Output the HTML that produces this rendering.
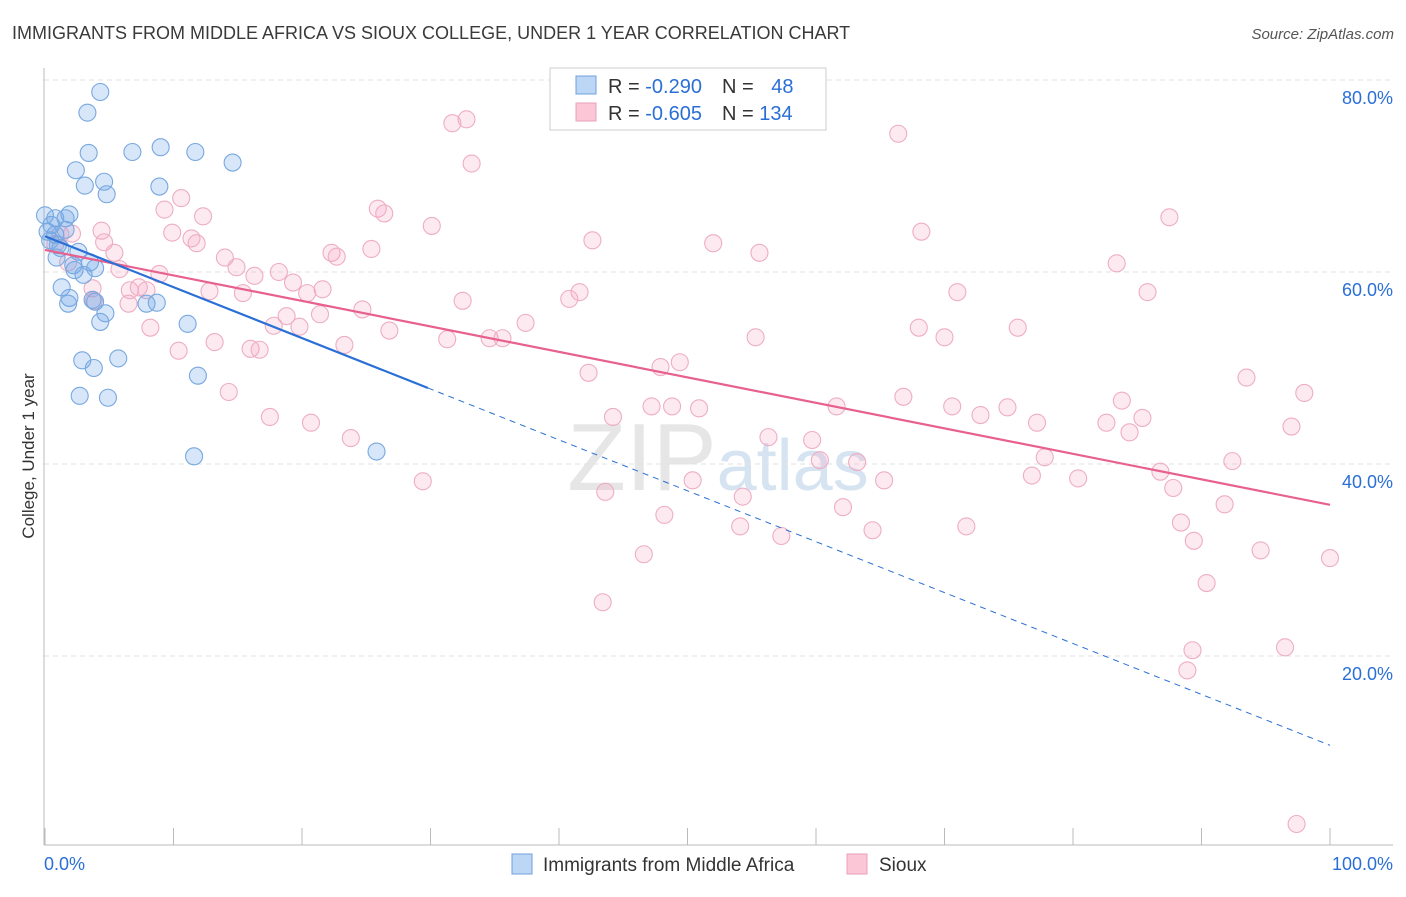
<!DOCTYPE html>
<html><head><meta charset="utf-8"><style>
body{margin:0;background:#fff;font-family:"Liberation Sans",sans-serif;}
svg text{font-family:"Liberation Sans",sans-serif;}
</style></head><body>
<svg id="chart" width="1406" height="892" viewBox="0 0 1406 892" xmlns="http://www.w3.org/2000/svg">
<text x="12" y="39" font-size="18" fill="#3a3a3a">IMMIGRANTS FROM MIDDLE AFRICA VS SIOUX COLLEGE, UNDER 1 YEAR CORRELATION CHART</text>
<text x="1394" y="39" font-size="15" fill="#555" text-anchor="end" font-style="italic">Source: ZipAtlas.com</text>
<text x="718" y="490" font-size="96" fill="#e6e6e6" text-anchor="middle" font-family="Liberation Serif">ZIP<tspan fill="#d6e4f2" font-family="Liberation Sans" font-size="72">atlas</tspan></text>
<g id="grid"></g>
<line x1="44" y1="68" x2="44" y2="845" stroke="#bbb"/>
<line x1="44" y1="845" x2="1393" y2="845" stroke="#bbb"/>
<g id="ticks"></g>
<text transform="translate(34,456) rotate(-90)" font-size="17" fill="#333" text-anchor="middle">College, Under 1 year</text>
<g id="pts"></g>
<g id="trend"></g>
<g>
<rect x="550" y="68" width="276" height="62" fill="#fff" stroke="#ccc"/>
<rect x="576" y="76" width="20" height="18" fill="#bcd6f5" stroke="#6fa0dc"/>
<rect x="576" y="103" width="20" height="18" fill="#fbc6d6" stroke="#e8a0b8"/>
<text x="608" y="93" font-size="20" fill="#333">R = <tspan fill="#2a6fd6">-0.290</tspan><tspan dx="20" fill="#333">N = </tspan><tspan dx="12" fill="#2a6fd6">48</tspan></text>
<text x="608" y="120" font-size="20" fill="#333">R = <tspan fill="#2a6fd6">-0.605</tspan><tspan dx="20" fill="#333">N = </tspan><tspan fill="#2a6fd6">134</tspan></text>
</g>
<g>
<rect x="512" y="854" width="20" height="20" fill="#bcd6f5" stroke="#6fa0dc"/>
<text x="543" y="871" font-size="19" fill="#333">Immigrants from Middle Africa</text>
<rect x="847" y="854" width="20" height="20" fill="#fbc6d6" stroke="#e8a0b8"/>
<text x="879" y="871" font-size="19" fill="#333">Sioux</text>
</g>
<text x="44" y="870" font-size="18" fill="#2a6fd6">0.0%</text>
<text x="1393" y="870" font-size="18" fill="#2a6fd6" text-anchor="end">100.0%</text>
</svg>
<script>
const yTicks=[20,40,60,80];
const yTickLabels=["20.0%","40.0%","60.0%","80.0%"];
const xTicks=[0,10,20,30,40,50,60,70,80,90,100];
const blueX=[4.3,3.3,3.4,6.8,9.0,11.7,14.6,2.4,3.1,4.6,4.8,8.9,0,0.8,1.9,1.6,0.2,0.8,1.2,2.6,3.5,2.2,3.0,1.3,1.9,1.8,3.9,4.7,4.3,7.9,8.7,11.1,2.9,3.8,5.7,11.9,2.7,4.9,11.6,25.8,0.5,1.0,2.3,3.9,0.4,1.6,3.7,0.9];
const blueY=[78.75,76.6,72.4,72.5,73.0,72.5,71.4,70.6,69.0,69.4,68.1,68.9,65.9,65.6,66.0,65.6,64.2,63.9,62.5,62.1,61.0,60.7,59.7,58.4,57.3,56.7,56.9,55.7,54.8,56.7,56.8,54.6,50.8,50.0,51.0,49.2,47.1,46.9,40.8,41.3,64.9,62.8,60.2,60.4,63.3,64.4,57.1,61.5];
const pinkX=[10.6,9.3,12.3,9.9,11.4,11.8,4.4,4.6,5.4,2.1,14.0,14.9,16.3,18.2,19.3,20.4,21.6,22.3,22.7,25.4,25.9,26.4,8.9,5.8,6.6,7.3,7.9,12.8,15.4,3.7,3.8,6.5,18.8,17.8,19.8,21.4,24.7,26.8,23.3,13.2,10.4,16.0,16.7,8.2,14.3,17.5,20.7,23.8,29.4,0.8,1.8,1.2,
31.7,32.8,33.2,30.1,42.6,32.5,31.3,34.6,35.6,37.4,40.8,41.6,42.3,44.2,43.6,43.4,46.6,47.2,47.9,49.4,48.8,50.9,50.4,48.2,52.0,55.6,55.3,54.3,54.1,56.3,57.3,59.7,60.3,61.6,62.1,63.2,64.4,65.3,66.4,66.8,68.2,68.0,70.0,71.0,70.6,72.8,74.9,71.7,75.7,77.2,77.8,76.8,80.4,82.6,83.4,83.8,84.4,85.4,85.8,86.8,87.5,87.8,88.4,89.4,89.3,88.9,90.4,91.8,92.4,93.5,94.6,97.0,98.0,96.5,100,97.4];
const pinkY=[67.7,66.5,65.8,64.1,63.5,63.0,64.3,63.1,62.0,64.0,61.5,60.5,59.6,60.0,58.9,57.8,58.2,62.0,61.6,62.4,66.6,66.1,59.8,60.3,58.1,58.4,58.1,58.0,57.8,58.3,57.0,56.7,55.4,54.4,54.3,55.6,56.1,53.9,52.4,52.7,51.8,52.0,51.9,54.2,47.5,44.9,44.3,42.7,38.2,62.9,61.0,63.9,
75.5,75.9,71.3,64.8,63.3,57.0,53.0,53.1,53.1,54.7,57.2,57.9,49.5,44.9,37.1,25.6,30.6,46.0,50.1,50.6,46.0,45.8,38.3,34.7,63.0,62.0,53.2,36.6,33.5,42.8,32.5,42.5,40.4,46.0,35.5,40.2,33.1,38.3,74.4,47.0,64.2,54.2,53.2,57.9,46.0,45.1,45.9,33.5,54.2,44.3,40.7,38.8,38.5,44.3,60.9,46.6,43.3,44.8,57.9,39.2,65.7,37.5,33.9,32.0,20.6,18.5,27.6,35.8,40.3,49.0,31.0,43.9,47.4,20.9,30.2,2.5];
const NS='http://www.w3.org/2000/svg';
const X0=45,X1=1330,Y0=848,YS=9.6;
function sx(v){return X0+(X1-X0)*v/100;}
function sy(v){return Y0-v*YS;}
function mk(tag,attrs,parent){const e=document.createElementNS(NS,tag);for(const k in attrs)e.setAttribute(k,attrs[k]);parent.appendChild(e);return e;}
const grid=document.getElementById('grid');
yTicks.forEach((t,i)=>{
 const l=mk('line',{x1:44,x2:1393,y1:sy(t),y2:sy(t),stroke:'#e2e2e2','stroke-dasharray':'5,4'},grid);
 
 
 const tx=mk('text',{x:1393,y:sy(t)+24,'font-size':18,fill:'#2a6fd6','text-anchor':'end'},grid);
 tx.textContent=yTickLabels[i];
 
 
});
const tk=document.getElementById('ticks');
xTicks.forEach(t=>{
 const l=mk('line',{x1:sx(t),x2:sx(t),y1:828,y2:845,stroke:'#bbb'},tk);
 
 
});
const pts=document.getElementById('pts');
pinkX.forEach((x,i)=>{
 const c=mk('circle',{cx:sx(x),cy:sy(pinkY[i]),r:8.5,fill:'rgba(244,160,190,0.22)',stroke:'#eeadc3','stroke-width':1.1},pts);
 
 
});
blueX.forEach((x,i)=>{
 const c=mk('circle',{cx:sx(x),cy:sy(blueY[i]),r:8.5,fill:'rgba(110,165,230,0.28)',stroke:'#78a8e0','stroke-width':1.1},pts);
 
 
});
function fit(xs,ys){const n=xs.length;let mx=0,my=0;for(let i=0;i<n;i++){mx+=xs[i];my+=ys[i];}mx/=n;my/=n;let sxy=0,sxx=0;for(let i=0;i<n;i++){sxy+=(xs[i]-mx)*(ys[i]-my);sxx+=(xs[i]-mx)**2;}const b=sxy/sxx;return [my-b*mx,b];}
const tr=document.getElementById('trend');
const pf=fit(pinkX,pinkY);
const pl=mk('line',{x1:sx(0),y1:sy(pf[0]),x2:sx(100),y2:sy(pf[0]+pf[1]*100),stroke:'#e8608e','stroke-width':2.2},tr);


const bf=fit(blueX,blueY);
const bxMax=Math.max(...blueX)+4;
const bl=mk('line',{x1:sx(0),y1:sy(bf[0]),x2:sx(bxMax),y2:sy(bf[0]+bf[1]*bxMax),stroke:'#2a6fd6','stroke-width':2.2},tr);


const bd=mk('line',{x1:sx(bxMax),y1:sy(bf[0]+bf[1]*bxMax),x2:sx(100),y2:sy(bf[0]+bf[1]*100),stroke:'#2a6fd6','stroke-width':1,'stroke-dasharray':'6,5'},tr);


</script>
</body></html>
